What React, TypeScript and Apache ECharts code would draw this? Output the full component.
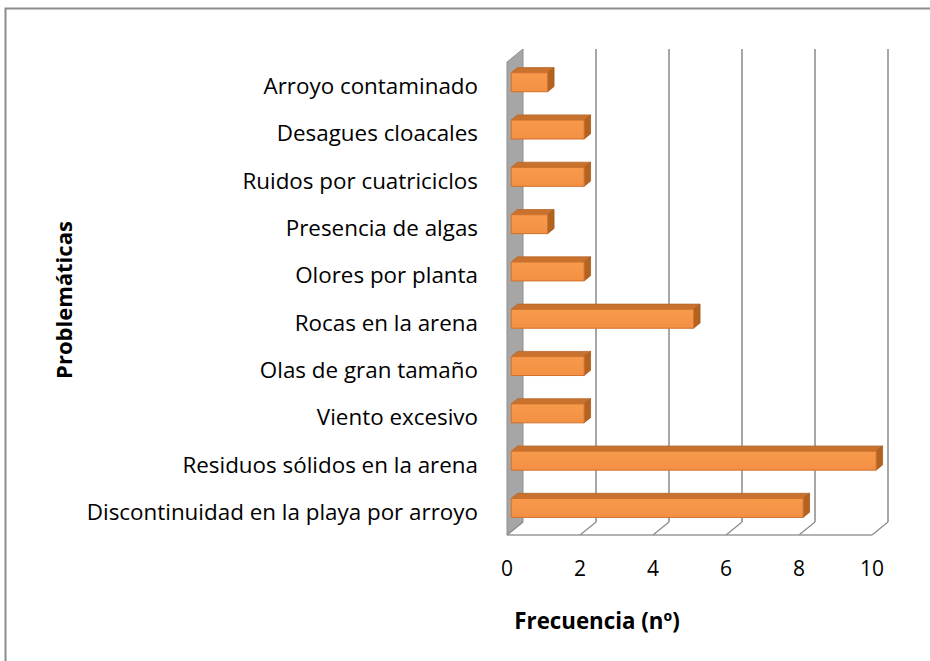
import React, { useEffect, useRef } from "react";
import * as echarts from "echarts";

const categories = [
  "Arroyo contaminado",
  "Desagues cloacales",
  "Ruidos por cuatriciclos",
  "Presencia de algas",
  "Olores por planta",
  "Rocas en la arena",
  "Olas de gran tamaño",
  "Viento excesivo",
  "Residuos sólidos en la arena",
  "Discontinuidad en la playa por arroyo",
];
const frecuencia = [1, 2, 2, 1, 2, 5, 2, 2, 10, 8];
const tickValues = [0, 2, 4, 6, 8, 10];
const xTitle = "Frecuencia (nº)";
const yTitle = "Problemáticas";

const DX = 16;
const DY = -13;
const FONT = "'Open Sans', 'Noto Sans', sans-serif";

export default function App() {
  const ref = useRef<HTMLDivElement>(null);
  useEffect(() => {
    const chart = echarts.init(ref.current!, null, { renderer: "svg" });

    const frameItem = (params: any, api: any) => {
      const cs = params.coordSys;
      const left = cs.x;
      const top = cs.y;
      const bottom = cs.y + cs.height;
      const children: any[] = [];
      const x0 = api.coord([0, 0])[0];
      children.push({
        type: "polygon",
        shape: {
          points: [
            [x0, top],
            [x0 + DX, top + DY],
            [x0 + DX, bottom + DY],
            [x0, bottom],
          ],
        },
        style: { fill: "#a6a6a6", stroke: "#8e8e8e", lineWidth: 1 },
      });
      tickValues.forEach((t) => {
        const x = api.coord([t, 0])[0];
        if (t !== 0) {
          children.push({
            type: "line",
            shape: { x1: x + DX, y1: top + DY, x2: x + DX, y2: bottom + DY },
            style: { stroke: "#8a8a8a", lineWidth: 1.5 },
          });
        }
        children.push({
          type: "line",
          shape: { x1: x + DX, y1: bottom + DY, x2: x, y2: bottom },
          style: { stroke: "#8a8a8a", lineWidth: 1.2 },
        });
      });
      const xr = api.coord([tickValues[tickValues.length - 1], 0])[0];
      children.push({
        type: "line",
        shape: { x1: left, y1: bottom, x2: xr, y2: bottom },
        style: { stroke: "#9a9a9a", lineWidth: 1.5 },
      });
      return { type: "group", children };
    };

    const barItem = (params: any, api: any) => {
      const idx = api.value(0);
      const val = api.value(1);
      const start = api.coord([0, idx]);
      const end = api.coord([val, idx]);
      const band = api.size([0, 1])[1];
      const h = band * 0.4;
      const d1 = 0.26;
      const d2 = 0.4;
      const ox = DX * d1;
      const oy = DY * d1;
      const x1 = start[0] + ox;
      const x2 = end[0] + ox;
      const yTop = start[1] + oy - h / 2;
      const yBot = yTop + h;
      const ddx = DX * d2;
      const ddy = DY * d2;
      return {
        type: "group",
        children: [
          {
            type: "polygon",
            shape: {
              points: [
                [x1, yTop],
                [x1 + ddx, yTop + ddy],
                [x2 + ddx, yTop + ddy],
                [x2, yTop],
              ],
            },
            style: { fill: "#c8722e", stroke: "#b8672a", lineWidth: 0.8 },
          },
          {
            type: "polygon",
            shape: {
              points: [
                [x2, yTop],
                [x2 + ddx, yTop + ddy],
                [x2 + ddx, yBot + ddy],
                [x2, yBot],
              ],
            },
            style: { fill: "#b3621f", stroke: "#a85b1e", lineWidth: 0.8 },
          },
          {
            type: "rect",
            shape: { x: x1, y: yTop, width: x2 - x1, height: h },
            style: {
              fill: new echarts.graphic.LinearGradient(0, 0, 0, 1, [
                { offset: 0, color: "#f79a4c" },
                { offset: 1, color: "#f39043" },
              ]),
              stroke: "#d0712c",
              lineWidth: 1,
            },
          },
        ],
      };
    };

    chart.setOption({
      animation: false,
      backgroundColor: "#ffffff",
      grid: { left: 507, top: 62, width: 365, height: 473, containLabel: false },
      xAxis: {
        type: "value",
        min: 0,
        max: 10,
        interval: 2,
        axisLine: { show: false },
        axisTick: { show: false },
        splitLine: { show: false },
        axisLabel: {
          margin: 22,
          fontSize: 21,
          fontFamily: FONT,
          color: "#000",
        },
      },
      yAxis: {
        type: "category",
        inverse: true,
        data: categories,
        axisLine: { show: false },
        axisTick: { show: false },
        axisLabel: {
          margin: 29,
          fontSize: 22.4,
          fontFamily: FONT,
          color: "#000",
        },
      },
      series: [
        {
          type: "custom",
          renderItem: frameItem,
          data: [[0, 0]],
          z: 1,
          silent: true,
        },
        {
          type: "custom",
          renderItem: barItem,
          encode: { x: 1, y: 0 },
          data: frecuencia.map((v, i) => [i, v]),
          z: 5,
        },
      ],
      graphic: [
        {
          type: "rect",
          shape: { x: 5.5, y: 8.5, width: 1000, height: 1000 },
          style: { fill: "none", stroke: "#8c8c8c", lineWidth: 2 },
          silent: true,
        },
        {
          type: "text",
          x: 597,
          y: 620,
          style: {
            text: xTitle,
            font: `bold 22.3px ${FONT}`,
            fill: "#000",
            align: "center",
            verticalAlign: "middle",
          },
        },
        {
          type: "text",
          x: 63,
          y: 300,
          rotation: Math.PI / 2,
          style: {
            text: yTitle,
            font: `bold 22px ${FONT}`,
            fill: "#000",
            align: "center",
            verticalAlign: "middle",
          },
        },
      ],
    });
    return () => chart.dispose();
  }, []);
  return (
    <div
      ref={ref}
      style={{ position: "fixed", left: 0, top: 0, width: 930, height: 661 }}
    />
  );
}
